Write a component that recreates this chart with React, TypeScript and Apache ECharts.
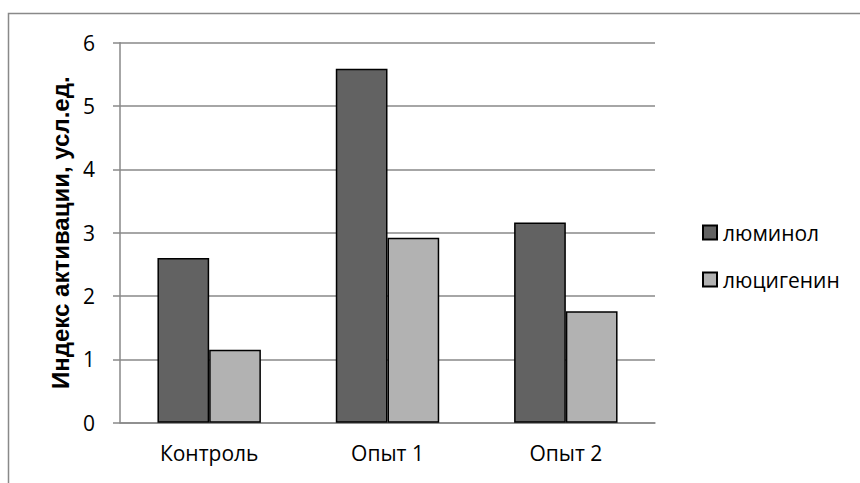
import React, { useEffect, useRef } from "react";
import * as echarts from "echarts";

const categories = ["Контроль", "Опыт 1", "Опыт 2"];
const seriesNames = ["люминол", "люцигенин"];
const luminol = [2.6, 5.59, 3.16];
const lucigenin = [1.15, 2.92, 1.76];
const yAxisTitle = "Индекс активации, усл.ед.";

const GRID = "#898989";
const LABEL_FONT = "'Open Sans', 'Noto Sans', sans-serif";

export default function App() {
  const ref = useRef<HTMLDivElement>(null);

  useEffect(() => {
    if (!ref.current) return;
    const chart = echarts.init(ref.current, undefined, { renderer: "svg" });
    chart.setOption({
      animation: false,
      backgroundColor: "#ffffff",
      textStyle: { fontFamily: LABEL_FONT },
      graphic: [
        {
          type: "rect",
          shape: { x: 8.5, y: 13.5, width: 1000, height: 700 },
          style: { fill: "none", stroke: GRID, lineWidth: 1.5 },
          silent: true,
        },
      ],
      grid: { left: 120, right: 205, top: 42.7, bottom: 60.3, containLabel: false },
      legend: {
        data: seriesNames,
        orient: "vertical",
        left: 697,
        top: 215.5,
        itemWidth: 14,
        itemHeight: 14,
        itemGap: 23,
        icon: "rect",
        textStyle: {
          fontFamily: LABEL_FONT,
          fontSize: 21,
          color: "#000",
          lineHeight: 24,
          padding: [0, 0, 0, 1],
        },
      },
      xAxis: {
        type: "category",
        data: categories,
        axisTick: { show: false },
        axisLine: { lineStyle: { color: GRID, width: 1.5 } },
        axisLabel: {
          fontFamily: LABEL_FONT,
          fontSize: 21,
          color: "#000",
          margin: 20,
        },
      },
      yAxis: {
        type: "value",
        min: 0,
        max: 6,
        interval: 1,
        name: yAxisTitle,
        nameLocation: "middle",
        nameGap: 46,
        nameTextStyle: {
          fontFamily: "'Liberation Sans', Arial, sans-serif",
          fontWeight: "bold",
          fontSize: 24,
          color: "#000",
        },
        axisLine: { show: true, lineStyle: { color: GRID, width: 1.5 } },
        axisTick: { show: true, length: 7, lineStyle: { color: GRID, width: 1.5 } },
        splitLine: { lineStyle: { color: GRID, width: 1.5 } },
        axisLabel: {
          fontFamily: LABEL_FONT,
          fontSize: 21,
          color: "#000",
          margin: 25,
        },
      },
      series: [
        {
          name: seriesNames[0],
          type: "bar",
          data: luminol,
          barGap: "0%",
          barCategoryGap: "42%",
          itemStyle: { color: "#626262", borderColor: "#000", borderWidth: 1.5 },
        },
        {
          name: seriesNames[1],
          type: "bar",
          data: lucigenin,
          barGap: "0%",
          barCategoryGap: "42%",
          itemStyle: { color: "#b2b2b2", borderColor: "#000", borderWidth: 1.5 },
        },
      ],
    });
    return () => chart.dispose();
  }, []);

  return (
    <div
      ref={ref}
      style={{ position: "absolute", left: 0, top: 0, width: 860, height: 483 }}
    />
  );
}
